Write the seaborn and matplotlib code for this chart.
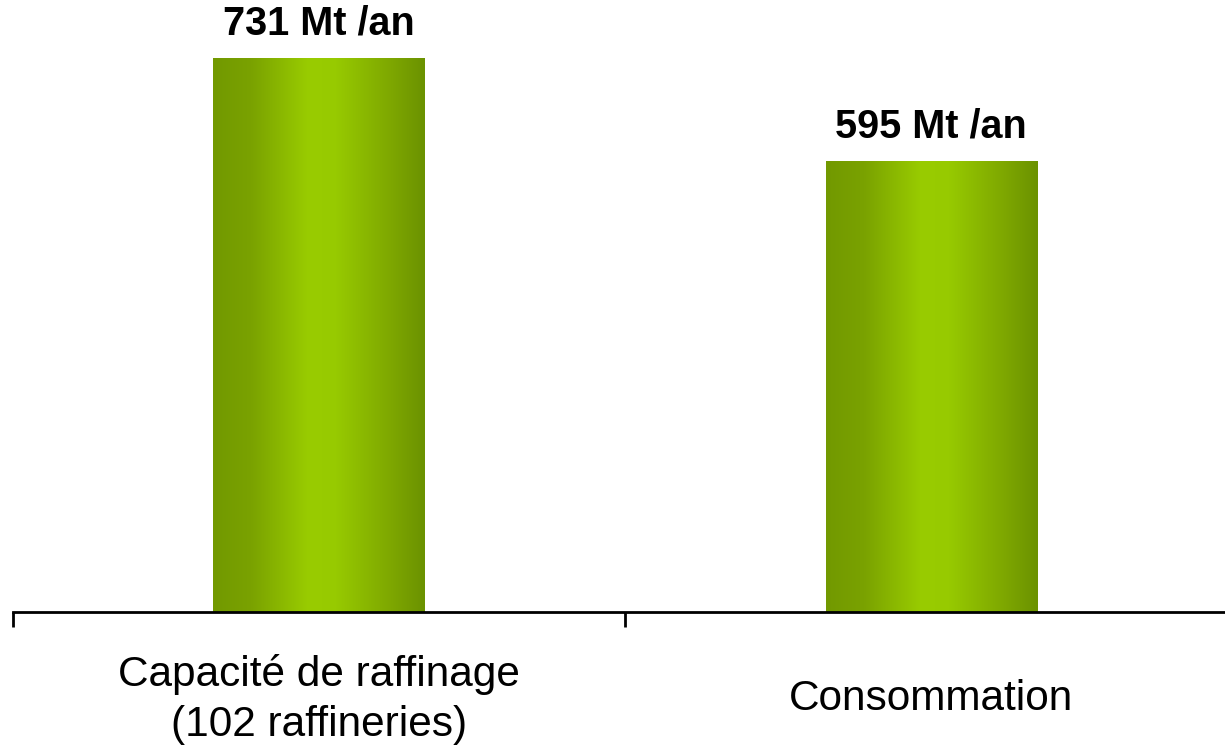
import numpy as np
import pandas as pd
import matplotlib
matplotlib.use('Agg')
import matplotlib.pyplot as plt
from matplotlib.colors import LinearSegmentedColormap
import seaborn as sns

categories = ['Capacité de raffinage\n(102 raffineries)', 'Consommation']
values = [731, 595]
value_labels = ['731 Mt /an', '595 Mt /an']

df = pd.DataFrame({'cat': categories, 'val': values})

sns.set_style('white')
plt.rcParams['font.family'] = ['Liberation Sans', 'DejaVu Sans']
plt.rcParams['text.color'] = 'black'
plt.rcParams['xtick.color'] = 'black'

fig = plt.figure(figsize=(12.25, 7.47), dpi=100)
ax = fig.add_axes([13 / 1225, 1 - 612 / 747, 1 - 13 / 1225, 612 / 747])

sns.barplot(data=df, x='cat', y='val', ax=ax, width=0.345, color='#99cc00',
            saturation=1, edgecolor='none')

# horizontal gradient inside each bar
cmap = LinearSegmentedColormap.from_list('grn', [
    (0.0, '#729900'), (0.18, '#7aa200'), (0.45, '#99cc00'),
    (0.58, '#97ca00'), (0.85, '#7da600'), (1.0, '#6b9200')])
grad = np.linspace(0, 1, 256).reshape(1, -1)
for bar in ax.patches:
    x0, y0 = bar.get_x(), bar.get_y()
    w, h = bar.get_width(), bar.get_height()
    im = ax.imshow(grad, cmap=cmap, aspect='auto', extent=[x0, x0 + w, y0, y0 + h],
                   zorder=bar.get_zorder() + 0.1)
    im.set_clip_path(bar)

for i, (v, lab) in enumerate(zip(values, value_labels)):
    ax.annotate(lab, (i, v), xytext=(0, 11), textcoords='offset points',
                ha='center', va='bottom', fontsize=28.5, fontweight='bold',
                color='black')

ax.set_xlabel('')
ax.set_ylabel('')
ax.set_yticks([])

for s in ['top', 'right', 'left']:
    ax.spines[s].set_visible(False)
ax.spines['bottom'].set_linewidth(2)
ax.spines['bottom'].set_color('black')

ax.set_xticks([0, 1])
ax.set_xticklabels(categories)
ax.set_xticks([-0.5, 0.5, 1.5], minor=True)
ax.tick_params(axis='x', which='major', length=0, pad=63, labelsize=30.5,
               labelcolor='black')
ax.tick_params(axis='x', which='minor', length=11, width=2, direction='out', color='black',
               bottom=True)
for t in ax.get_xticklabels():
    t.set_va('center')
    t.set_linespacing(1.3)

ax.set_xlim(-0.5, 1.48)
ax.set_ylim(0, 731 * 612 / 554)

fig.savefig('out.png', dpi=100)
